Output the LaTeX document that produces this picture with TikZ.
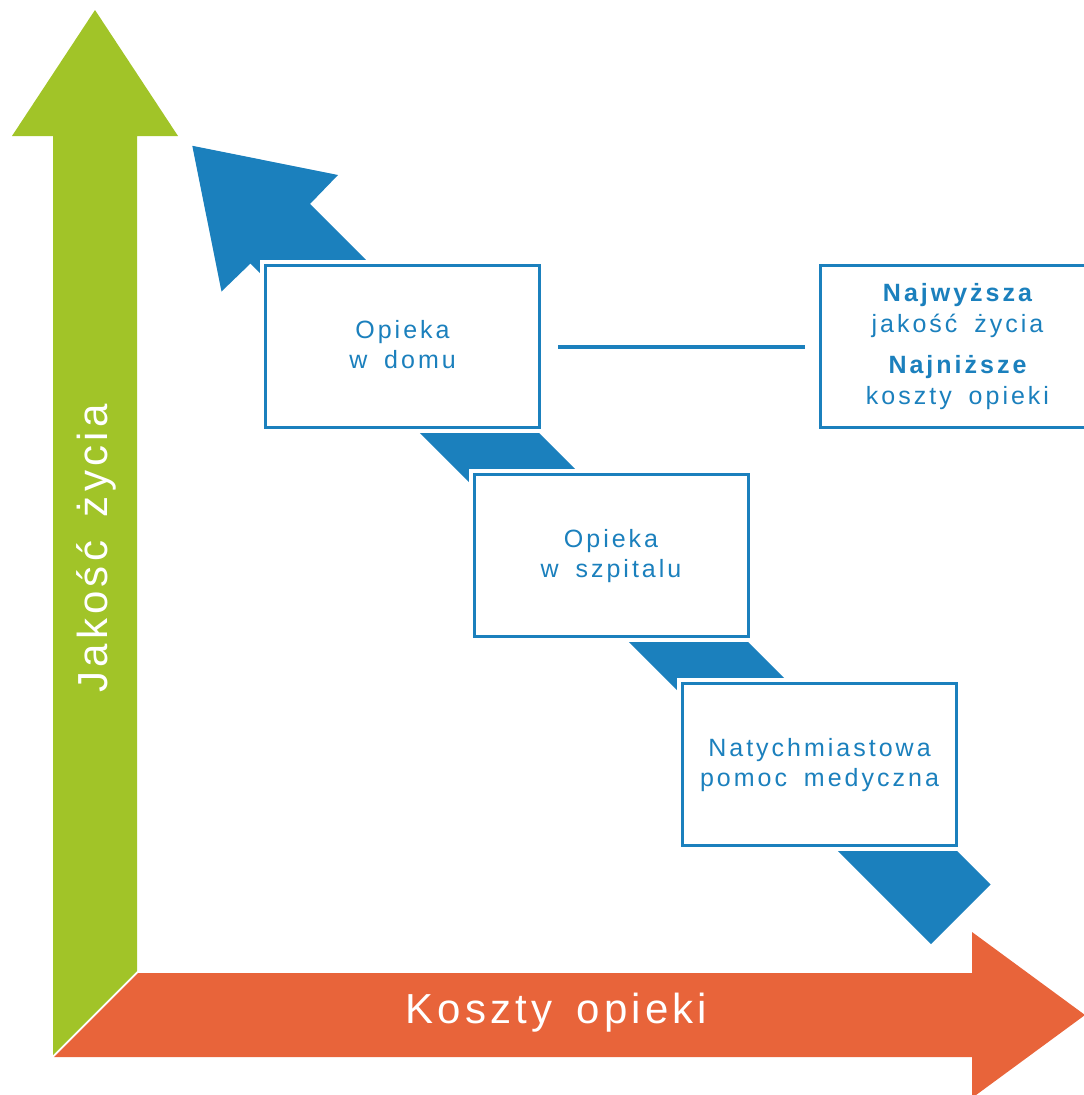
\documentclass[tikz,border=0pt]{standalone}
\usepackage{fontspec}
\setmainfont{Liberation Sans}
\newfontfamily\boxfont[LetterSpace=12,WordSpace=1.7]{Liberation Sans}
\newfontfamily\axisfont[LetterSpace=10,WordSpace=1.5]{Liberation Sans}
\definecolor{cgreen}{HTML}{A1C428}
\definecolor{corange}{HTML}{E8643A}
\definecolor{cblue}{HTML}{1B80BD}
\tikzset{
  boxnode/.style={draw=cblue, line width=3pt, fill=white, minimum width=274pt,
    minimum height=162pt, inner sep=0pt, align=center, text=cblue,
    font=\boxfont\fontsize{25}{30}\selectfont,
    preaction={draw=white, line width=11pt}},
  axislabel/.style={text=white, inner sep=0pt, font=\axisfont\fontsize{42}{50}\selectfont},
  linkline/.style={draw=cblue, line width=4pt}
}
\newcommand{\bstrut}{\rule[-5pt]{0pt}{24pt}}
\begin{document}
\begin{tikzpicture}[x=1pt,y=-1pt]
\useasboundingbox (0,0) rectangle (1084,1095);
\clip (0,0) rectangle (1084,1095);
% green vertical arrow
\fill[cgreen] (95,10) -- (178,136) -- (137,136) -- (137,971) -- (53,1055)
  -- (53,136) -- (12,136) -- cycle;
% orange horizontal arrow
\fill[corange] (138,973) -- (972,973) -- (972,932) -- (1085,1015) -- (972,1098)
  -- (972,1057) -- (54,1057) -- cycle;
% blue diagonal arrow
\fill[cblue] (192.25,145.75) -- (338,175) -- (310,204) -- (990.5,884.5)
  -- (931,944) -- (250.5,263.5) -- (221.5,291.5) -- cycle;
% boxes
\node[boxnode] (b1) at (402.5,346.5) {\bstrut Opieka\\\bstrut w domu};
\node[boxnode] (b2) at (611,555.5) {\bstrut Opieka\\\bstrut w szpitalu};
\node[boxnode] (b3) at (819.5,764.5) {\bstrut Natychmiastowa\\\bstrut pomoc medyczna};
\node[boxnode, font=\boxfont\fontsize{25}{31}\selectfont] (b4) at (957.5,346.5)
  {\bstrut{\bfseries Najwyższa}\\jakość życia\\[10pt]{\bfseries Najniższe}\\\bstrut koszty opieki};
\draw[linkline, shorten <=17pt, shorten >=14pt] (b1.east) -- (b4.west);
% axis labels
\node[axislabel, rotate=90, anchor=base] (ylab) at (107,548.5) {Jakość życia};
\node[axislabel, anchor=base] (xlab) at (556.5,1023) {Koszty opieki};
\end{tikzpicture}
\end{document}
